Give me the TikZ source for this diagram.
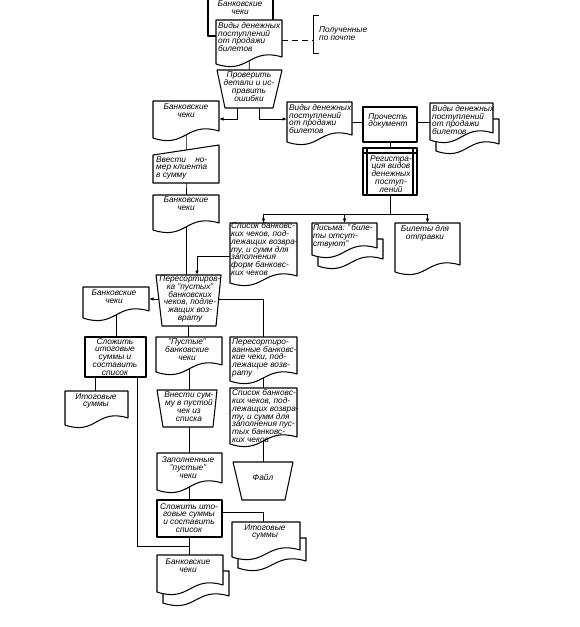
\documentclass[tikz,border=0pt]{standalone}
\usepackage{fontspec}
\setmainfont{Liberation Sans}
\usetikzlibrary{arrows.meta,backgrounds}
\newcommand\diagfont{\fontsize{8.3}{7.9}\selectfont\itshape}
\tikzset{
 shp/.style={draw,line width=1.05pt,fill=white,line join=round},
 shpl/.style={draw,line width=1.05pt},
 con/.style={line width=0.85pt},
 arr/.style={con,-{Latex[length=4.5pt,width=3.5pt]}},
 txt/.style={font=\diagfont,inner sep=0pt,align=center},
 txl/.style={font=\diagfont,inner sep=0pt,align=left,anchor=west},
 hid/.style={inner sep=0pt,outer sep=0pt,anchor=north west},
}
\newcommand\mkbox[5]{\node[hid,minimum width={(#4-#2)*1pt},minimum height={(#5-#3)*1pt}] (#1) at (#2,#3) {};}
\newcommand\docsh[5]{%
 \draw[shp] (#2,#3) -- (#4,#3) -- (#4,#5-7) .. controls ({(#2+#4)/2},#5-17) and ({(#2+#4)/2},#5+11) .. (#2,#5) -- cycle;
 \mkbox{#1}{#2}{#3}{#4}{#5-2}}
\newcommand\mdocsh[5]{%
 \draw[shp] (#2+6,#3+16) -- (#4+6,#3+16) -- (#4+6,#5+4) .. controls ({(#2+#4)/2+6},#5-6) and ({(#2+#4)/2+6},#5+22) .. (#2+6,#5+11) -- cycle;
 \docsh{#1}{#2}{#3}{#4}{#5}}
\newcommand\trap[7]{%
 \draw[shp] (#2,#4) -- (#3,#4) -- (#6,#7) -- (#5,#7) -- cycle;
 \mkbox{#1}{#2}{#4}{#3}{#7}}
\newcommand\prc[5]{\draw[shp] (#2,#3) rectangle (#4,#5); \mkbox{#1}{#2}{#3}{#4}{#5}}
\begin{document}
\begin{tikzpicture}[x=1pt,y=-1pt]
\useasboundingbox (0,0) rectangle (580,627);
\clip (0,0) rectangle (580,627);
% top pair of documents
\prc{B0}{208}{-10}{273}{36}
\node[txt] (b0t) at (240,8) {Банковские\\чеки};
\docsh{D1}{216}{20}{282}{64}
\node[txl] (d1t) at (218,37) {Виды денежных\\поступлений\\от продажи\\билетов};
\node[txl] (post) at (319,34) {Полученные\\по почте};
\coordinate (brk) at (313,40);
\draw[con] (319,15) -| (313,53) -- (319,53);
% check
\trap{T1}{217}{282}{70}{225}{273}{108}
\node[txt] (t1t) at (249,86.5) {Проверить\\детали и ис-\\править\\ошибки};
% left column
\docsh{B1}{153}{101}{219}{138}
\node[txt] (b1t) at (186,111) {Банковские\\чеки};
\draw[shp] (153,155) -- (219,145) -- (219,183) -- (153,183) -- cycle;
\mkbox{M1}{153}{145}{219}{183}
\node[txl] (m1t) at (156,168) {Ввести\ \ \ \ но-\\мер клиента\\в сумму};
\docsh{B2}{153}{195}{219}{230}
\node[txt] (b2t) at (186,204) {Банковские\\чеки};
% middle row
\docsh{D2}{287}{102}{352}{142}
\node[txl] (d2t) at (289,119) {Виды денежных\\поступлений\\от продажи\\билетов};
\prc{P1}{363}{107}{417}{142}
\node[txt] (p1t) at (388,121) {Прочесть\\документ};
\mdocsh{D3}{430}{103}{493}{140}
\node[txl] (d3t) at (432,120) {Виды денежных\\поступлений\\от продажи\\билетов};
\prc{R1}{363}{148}{417}{195}
\draw[shpl] (367,148) -- (367,195) (413,148) -- (413,195) (363,153) -- (417,153);
\node[txt] (r1t) at (391,174) {Регистра-\\ция видов\\денежных\\поступ-\\лений};
% three documents
\docsh{L1}{230}{223}{297}{283}
\node[txl] (l1t) at (231,249) {Список банковс-\\ких чеков, под-\\лежащих возвра-\\ту, и сумм для\\заполнения\\форм банковс-\\ких чеков};
\mdocsh{Pm}{312}{223}{377}{255}
\node[txl] (pmt) at (313,236) {Письма:~"\,биле-\\ты отсут-\\ствуют"};
\docsh{Bt}{395}{223}{460}{272}
\node[txt] (btt) at (425,233) {Билеты для\\отправки};
% sorting
\trap{T2}{156}{221}{275}{162}{216}{326}
\node[txt] (t2t) at (190,299) {Пересортиров-\\ка "пустых"\\банковских\\чеков, подле-\\жащих воз-\\врату};
\docsh{B3}{83}{287}{149}{318}
\node[txt] (b3t) at (114,297) {Банковские\\чеки};
\prc{S1}{85}{337}{146}{377}
\node[txt] (s1t) at (115,357) {Сложить\\итоговые\\суммы и\\составить\\список};
\docsh{I1}{65}{391}{128}{425}
\node[txt] (i1t) at (96,401) {Итоговые\\суммы};
% centre column
\docsh{PU}{156}{337}{222}{372}
\node[txt] (put) at (187,350) {"Пустые"\\банковские\\чеки};
\trap{T3}{157}{217}{390}{163}{213}{427}
\node[txt] (t3t) at (189,407) {Внести сум-\\му в пустой\\чек из\\списка};
\docsh{ZP}{157}{453}{222}{490}
\node[txt] (zpt) at (188,468) {Заполненные\\"пустые"\\чеки};
\prc{S2}{157}{500}{222}{537}
\node[txt] (s2t) at (189,518) {Сложить ито-\\говые суммы\\и составить\\список};
\mdocsh{IM}{232}{522}{300}{557}
\node[txt] (imt) at (265,532) {Итоговые\\суммы};
\mdocsh{BM}{157}{555}{223}{592}
\node[txt] (bmt) at (188,566) {Банковские\\чеки};
% right column
\docsh{PR}{230}{337}{297}{381}
\node[txl] (prt) at (232,358) {Пересортиро-\\ванные банковс-\\кие чеки, под-\\лежащие возв-\\рату};
\docsh{L2}{230}{388}{297}{444}
\node[txl] (l2t) at (232,416) {Список банковс-\\ких чеков, под-\\лежащих возвра-\\ту, и сумм для\\заполнения пус-\\тых банковс-\\ких чеков};
\trap{F}{233}{293}{462}{242}{285}{500}
\node[txt] (ft) at (263,477) {Файл};
% connectors
\begin{scope}[on background layer]
 \draw[con,dash pattern=on 6pt off 4pt] (D1.east |- brk) -- (brk);
 \draw[con] (D1.center) -- (T1.center);
 \draw[arr] (237,0 |- T1.south) |- (B1.east |- 0,119);
 \draw[arr] (259,0 |- T1.south) |- (D2.west |- 0,119);
 \draw[con] (B1.center) -- (M1.center) -- (B2.center);
 \draw[con] (B2.center) -- (B2.center |- T2.center);
 \draw[con] (D2.center |- 0,122) -- (P1.center |- 0,122);
 \draw[con] (P1.center |- 0,122) -- (D3.center |- 0,122);
 \draw[con] (P1.center) -- (R1.center);
 \draw[con] (R1.center) -- (R1.center |- 0,214);
 \draw[con] (L1.north |- 0,214) -- (Bt.north |- 0,214);
 \draw[arr] (L1.north |- 0,214) -- (L1.north);
 \draw[arr] (Pm.north |- 0,214) -- (Pm.north);
 \draw[arr] (Bt.north |- 0,214) -- (Bt.north);
 \draw[arr] (L1.west |- 0,256) -| (197,0 |- T2.north);
 \draw[arr] (T2.center |- 0,299) -- (B3.east |- 0,299);
 \draw[con] (T2.center |- 0,299) -| (263,0 |- PR.center);
 \draw[con] (T2.center) -- (T2.center |- PU.center);
 \draw[con] (B3.center) -- (B3.center |- S1.center);
 \draw[con] (95,0 |- S1.center) -- (95,0 |- I1.center);
 \draw[con] (137,0 |- S1.center) |- (189,546);
 \draw[con] (189,0 |- PU.center) -- (189,0 |- BM.center);
 \draw[con] (S2.center |- 0,512) -| (263,0 |- IM.center);
 \draw[con] (263,0 |- PR.center) -- (263,0 |- F.center);
\end{scope}
\end{tikzpicture}
\end{document}
